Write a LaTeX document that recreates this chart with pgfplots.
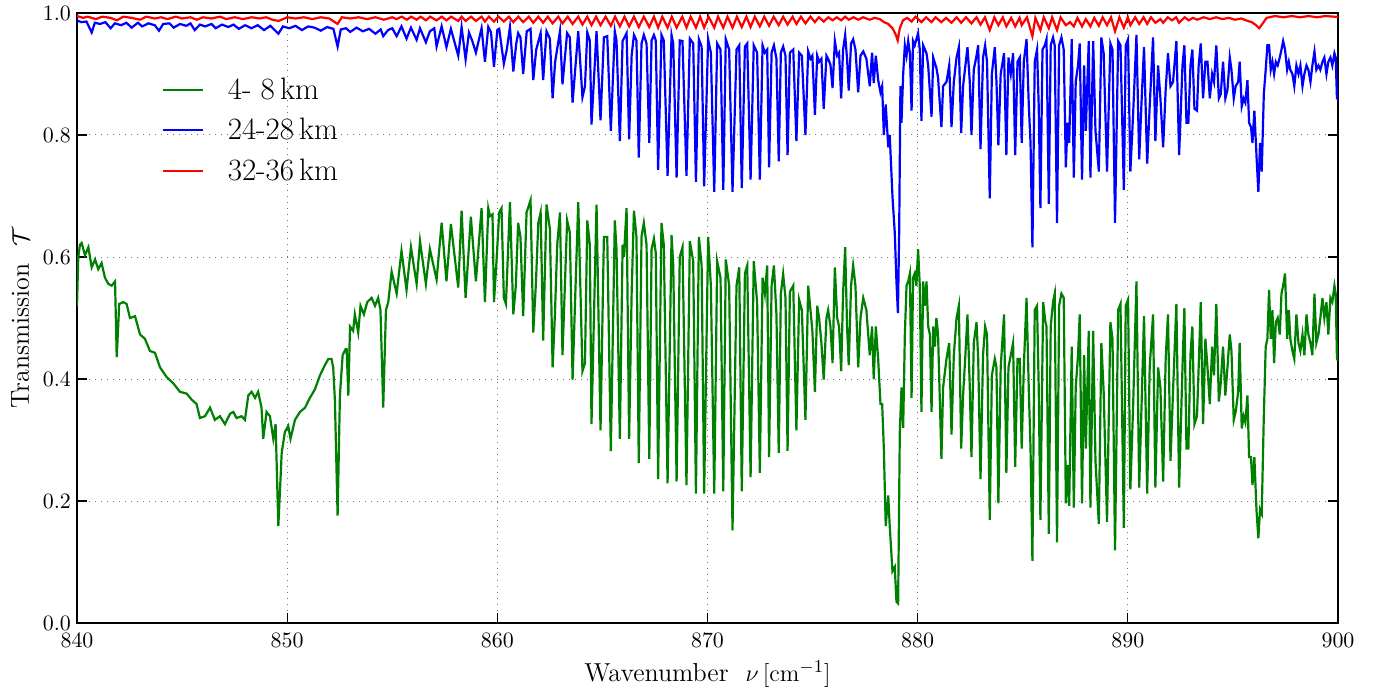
\documentclass[border=0pt]{standalone}
\usepackage{pgfplots}
\pgfplotsset{compat=1.18}
\definecolor{mgreen}{rgb}{0,0.5,0}
\begin{document}
\begin{tikzpicture}
\begin{axis}[
  scale only axis,
  width=630.5pt, height=305pt,
  xmin=840, xmax=900, ymin=0, ymax=1,
  xtick={840,850,860,870,880,890,900},
  ytick={0,0.2,0.4,0.6,0.8,1},
  ticklabel style={font=\fontsize{11}{13}\selectfont},
  xticklabel style={yshift=-1.5pt},
  yticklabel style={xshift=0.5pt},
  yticklabel style={/pgf/number format/.cd, fixed, fixed zerofill, precision=1},
  tick align=inside, major tick length=5pt,
  tick style={black, line width=0.6pt},
  axis line style={black, line width=1pt},
  xmajorgrids, ymajorgrids,
  grid style={black!55, line width=0.5pt, dash pattern=on 0.7pt off 2.3pt},
  xlabel={Wavenumber\ \ $\nu\,[\mathrm{cm}^{-1}]$},
  ylabel={Transmission\ \ $\mathcal{T}$},
  label style={font=\fontsize{13}{15}\selectfont},
  legend style={draw=none, fill=none, at={(0.062,0.908)}, anchor=north west,
    font=\fontsize{15.5}{18}\selectfont, row sep=4pt,
    /tikz/every odd column/.append style={column sep=10pt}},
  legend cell align=left,
  legend image code/.code={\draw[#1,line width=1.1pt] (0pt,0pt) -- (20pt,0pt);},
]
\coordinate (SW) at (rel axis cs:0,0);
\coordinate (NE) at (rel axis cs:1,1);
% 4-8 km
\addplot[mgreen, line width=1.1pt] coordinates {
(840.0,0.52)(840.06,0.60)(840.14,0.620)(840.22,0.623)(840.38,0.603)(840.54,0.616)(840.70,0.583)(840.86,0.596)
(841.01,0.580)(841.17,0.590)(841.33,0.566)(841.49,0.556)(841.65,0.553)(841.81,0.560)(841.89,0.436)(842.01,0.523)
(842.20,0.526)(842.36,0.523)(842.52,0.500)(842.76,0.503)(843.00,0.473)(843.23,0.466)(843.47,0.446)(843.71,0.443)
(843.95,0.419)(844.27,0.403)(844.58,0.393)(844.90,0.379)(845.22,0.376)(845.46,0.366)(845.69,0.359)(845.85,0.336)
(846.09,0.339)(846.33,0.353)(846.56,0.333)(846.80,0.339)(847.04,0.326)(847.28,0.343)(847.44,0.346)(847.59,0.336)
(847.83,0.339)(847.99,0.333)(848.15,0.373)(848.31,0.379)(848.47,0.369)(848.62,0.379)(848.78,0.353)(848.86,0.302)
(849.02,0.346)(849.18,0.339)(849.34,0.302)(849.45,0.326)(849.58,0.159)(849.74,0.279)(849.89,0.313)(850.05,0.323)
(850.16,0.302)(850.37,0.333)(850.61,0.346)(850.85,0.353)(851.08,0.369)(851.32,0.383)(851.56,0.406)(851.80,0.423)
(851.96,0.433)(852.11,0.433)(852.19,0.419)(852.27,0.366)(852.40,0.176)(852.51,0.373)(852.64,0.439)(852.78,0.449)
(852.83,0.449)(852.91,0.373)(852.99,0.486)(853.14,0.479)(853.22,0.506)(853.38,0.476)(853.49,0.520)(853.65,0.506)
(853.81,0.526)(854.02,0.533)(854.18,0.520)(854.33,0.533)(854.44,0.513)(854.57,0.353)(854.70,0.513)(854.81,0.526)
(854.97,0.576)(855.21,0.540)(855.44,0.610)(855.68,0.546)(855.89,0.616)(856.16,0.556)(856.32,0.626)(856.60,0.556)
(856.79,0.613)(857.11,0.563)(857.35,0.656)(857.58,0.560)(857.79,0.654)(858.14,0.550)(858.30,0.676)(858.49,0.533)
(858.74,0.666)(858.98,0.560)(859.25,0.680)(859.41,0.526)
(859.57,0.680)(859.65,0.667)(859.77,0.670)(859.84,0.526)(859.96,0.593)(860.09,0.673)(860.20,0.680)(860.31,0.533)
(860.41,0.523)(860.60,0.690)(860.76,0.506)(860.88,0.553)(860.99,0.656)(861.10,0.633)(861.23,0.503)(861.39,0.673)
(861.58,0.693)(861.71,0.476)(861.83,0.553)(861.95,0.656)(862.06,0.673)(862.18,0.463)(862.34,0.686)(862.50,0.646)
(862.63,0.419)(862.74,0.506)(862.85,0.620)(862.98,0.673)(863.10,0.439)(863.32,0.660)(863.45,0.640)(863.58,0.399)
(863.85,0.690)(864.05,0.413)(864.17,0.426)(864.28,0.660)(864.40,0.620)(864.48,0.326)(864.72,0.686)(864.91,0.316)
(865.07,0.633)(865.23,0.633)(865.40,0.282)(865.59,0.660)(865.67,0.613)(865.83,0.302)
(865.96,0.620)(866.02,0.600)(866.15,0.680)(866.27,0.302)(866.39,0.540)(866.50,0.676)(866.62,0.633)(866.73,0.262)
(866.86,0.633)(866.97,0.656)(867.10,0.620)(867.23,0.269)(867.34,0.613)(867.45,0.630)(867.54,0.606)(867.65,0.236)
(867.81,0.656)(867.92,0.620)(868.10,0.229)(868.29,0.636)(868.37,0.586)(868.53,0.232)(868.68,0.600)(868.81,0.616)
(869.00,0.226)(869.16,0.626)(869.32,0.593)(869.45,0.212)(869.59,0.633)(869.72,0.586)(869.84,0.212)(870.03,0.633)
(870.16,0.553)(870.32,0.212)(870.46,0.593)(870.62,0.566)(870.75,0.216)(870.87,0.596)(871.03,0.553)(871.19,0.152)
(871.38,0.553)(871.51,0.583)(871.63,0.216)(871.78,0.573)(871.89,0.586)(872.05,0.239)(872.20,0.593)(872.36,0.526)
(872.49,0.246)
(872.62,0.566)(872.73,0.540)(872.84,0.586)(872.93,0.272)(873.05,0.553)(873.16,0.586)(873.28,0.506)(873.39,0.279)
(873.49,0.540)(873.60,0.572)(873.71,0.533)(873.81,0.282)(873.92,0.543)(874.08,0.553)(874.23,0.316)(874.36,0.530)
(874.49,0.513)(874.66,0.333)(874.79,0.553)(874.90,0.513)(874.99,0.479)(875.11,0.379)(875.22,0.520)(875.31,0.500)
(875.42,0.459)(875.53,0.399)(875.66,0.500)(875.74,0.513)(875.85,0.486)(875.95,0.426)(876.06,0.583)(876.17,0.500)
(876.26,0.486)(876.36,0.413)(876.45,0.540)(876.55,0.616)(876.64,0.486)(876.72,0.423)(876.83,0.553)(876.93,0.586)
(877.04,0.553)(877.17,0.419)(877.28,0.500)(877.41,0.533)(877.56,0.513)(877.72,0.439)(877.83,0.486)(877.91,0.400)
(878.01,0.486)(878.12,0.433)(878.23,0.359)(878.31,0.359)(878.39,0.286)(878.48,0.159)(878.60,0.209)(878.67,0.159)
(878.80,0.085)(878.91,0.092)(878.99,0.035)(879.07,0.032)
(879.15,0.313)(879.23,0.386)(879.31,0.320)(879.39,0.473)(879.47,0.553)(879.55,0.560)(879.63,0.573)(879.71,0.369)
(879.78,0.566)(879.86,0.573)(879.94,0.553)(880.02,0.613)(880.10,0.553)(880.18,0.346)(880.26,0.560)(880.34,0.520)
(880.42,0.560)(880.50,0.486)(880.58,0.473)(880.66,0.346)(880.74,0.486)(880.82,0.453)(880.89,0.500)(880.97,0.473)
(881.13,0.269)(881.21,0.386)(881.37,0.433)(881.50,0.459)(881.61,0.309)(881.72,0.439)(881.85,0.500)(881.96,0.520)
(882.07,0.286)(882.16,0.373)(882.27,0.439)(882.37,0.506)(882.48,0.386)(882.56,0.272)(882.67,0.459)(882.80,0.493)
(882.88,0.433)(882.99,0.236)(883.11,0.439)(883.21,0.486)(883.30,0.473)(883.43,0.169)(883.53,0.406)(883.67,0.433)
(883.75,0.419)(883.84,0.196)(883.95,0.419)(884.11,0.506)(884.22,0.246)(884.32,0.419)(884.43,0.439)(884.54,0.459)
(884.64,0.256)(884.75,0.433)(884.86,0.433)(884.95,0.286)(885.05,0.419)(885.18,0.533)(885.29,0.379)(885.37,0.286)
(885.46,0.102)(885.57,0.513)(885.68,0.520)(885.76,0.386)(885.84,0.169)(885.97,0.526)(886.08,0.493)(886.13,0.486)
(886.24,0.146)(886.33,0.486)(886.44,0.526)(886.52,0.540)(886.63,0.132)(886.73,0.520)(886.84,0.540)(886.95,0.533)
(887.05,0.196)(887.13,0.259)(887.21,0.192)(887.33,0.453)(887.43,0.189)(887.52,0.386)(887.63,0.439)(887.71,0.506)
(887.82,0.196)(887.92,0.439)(888.00,0.286)(888.14,0.479)(888.22,0.189)(888.35,0.479)(888.46,0.266)(888.62,0.162)
(888.74,0.459)(888.85,0.379)(889.01,0.166)(889.17,0.493)(889.27,0.466)(889.39,0.119)(889.54,0.513)(889.65,0.523)
(889.81,0.156)(889.90,0.520)(890.01,0.530)(890.12,0.219)(890.25,0.353)(890.41,0.560)(890.54,0.222)(890.65,0.353)
(890.77,0.503)(890.92,0.212)(891.04,0.419)(891.20,0.506)(891.31,0.222)(891.44,0.419)(891.55,0.386)(891.68,0.232)
(891.80,0.433)(891.91,0.506)(892.03,0.266)(892.15,0.379)(892.31,0.523)(892.44,0.222)
(892.60,0.419)(892.69,0.516)(892.79,0.286)(892.88,0.286)(892.98,0.439)(893.07,0.486)(893.17,0.326)(893.29,0.339)
(893.37,0.419)(893.47,0.526)(893.58,0.326)(893.69,0.466)(893.79,0.419)(893.90,0.359)(894.01,0.453)(894.10,0.406)
(894.21,0.523)(894.33,0.363)(894.42,0.393)(894.53,0.453)(894.64,0.373)(894.74,0.419)(894.85,0.473)(894.93,0.446)
(895.04,0.333)(895.13,0.346)(895.25,0.379)(895.32,0.459)(895.42,0.319)(895.51,0.339)(895.59,0.329)(895.69,0.373)
(895.77,0.272)(895.86,0.272)(895.93,0.226)(896.02,0.272)(896.12,0.186)(896.21,0.139)(896.29,0.186)(896.37,0.179)
(896.47,0.339)(896.56,0.453)(896.64,0.466)(896.72,0.546)(896.80,0.466)(896.88,0.513)(896.96,0.426)(897.04,0.493)
(897.13,0.500)(897.23,0.473)(897.31,0.540)(897.39,0.553)(897.48,0.573)(897.58,0.466)(897.66,0.513)(897.73,0.466)
(897.83,0.446)(897.92,0.433)(898.02,0.506)(898.12,0.459)(898.21,0.446)(898.31,0.473)(898.40,0.439)(898.50,0.506)
(898.59,0.473)(898.69,0.459)(898.78,0.439)(898.88,0.540)(898.97,0.459)(899.07,0.473)(899.16,0.500)(899.26,0.533)
(899.35,0.500)(899.45,0.526)(899.54,0.473)(899.64,0.533)(899.73,0.526)(899.83,0.553)(899.89,0.540)(899.95,0.433)
(900.00,0.430)
};
\addlegendentry{4- 8\,km}
% 24-28 km
\addplot[blue, line width=1.1pt] coordinates {
(840.0,0.988)(840.2,0.985)(840.45,0.986)(840.7,0.968)(840.85,0.984)(841.1,0.982)(841.35,0.985)(841.6,0.975)
(841.8,0.983)(842.1,0.980)(842.35,0.984)(842.6,0.976)(842.9,0.984)(843.1,0.978)(843.4,0.983)(843.7,0.980)
(843.9,0.971)(844.1,0.982)(844.4,0.983)(844.6,0.976)(844.9,0.982)(845.2,0.979)(845.4,0.983)(845.6,0.972)
(845.85,0.981)(846.1,0.978)(846.4,0.982)(846.6,0.975)(846.9,0.981)(847.2,0.977)(847.45,0.981)(847.7,0.974)
(848.0,0.980)(848.3,0.975)(848.6,0.980)(848.9,0.972)(849.2,0.979)(849.58,0.966)(849.8,0.978)(850.1,0.975)
(850.4,0.979)(850.7,0.972)(851.0,0.978)(851.3,0.976)(851.6,0.971)(851.9,0.977)(852.2,0.974)(852.40,0.945)
(852.55,0.973)(852.8,0.975)(853.0,0.969)(853.3,0.976)(853.6,0.970)(853.9,0.974)(854.2,0.966)(854.45,0.973)
(854.57,0.962)(854.8,0.972)(855.0,0.975)(855.21,0.962)(855.44,0.978)(855.68,0.958)(855.89,0.976)(856.16,0.956)
(856.32,0.975)(856.60,0.952)(856.79,0.970)(857.0,0.975)(857.11,0.945)(857.35,0.978)(857.58,0.944)(857.79,0.974)
(858.14,0.930)(858.30,0.977)(858.49,0.924)(858.65,0.968)(858.80,0.955)(858.98,0.935)(859.25,0.975)(859.41,0.920)
(859.57,0.977)(859.70,0.968)(859.84,0.912)(860.00,0.972)(860.09,0.974)(860.31,0.917)(860.45,0.940)(860.60,0.977)
(860.76,0.904)(860.90,0.950)(860.99,0.967)(861.10,0.960)(861.23,0.900)(861.40,0.970)(861.58,0.974)(861.71,0.890)
(861.85,0.940)(862.06,0.967)(862.18,0.890)(862.34,0.970)(862.50,0.958)(862.63,0.860)(862.75,0.920)(862.98,0.970)
(863.10,0.883)(863.32,0.967)(863.45,0.960)(863.58,0.853)(863.85,0.970)(864.05,0.862)(864.17,0.880)(864.28,0.968)
(864.40,0.955)(864.48,0.817)(864.72,0.970)(864.91,0.824)(865.07,0.960)(865.23,0.962)(865.40,0.807)(865.59,0.970)
(865.67,0.955)(865.83,0.790)
(865.96,0.954)(866.15,0.967)(866.27,0.793)(866.39,0.930)(866.50,0.964)(866.62,0.955)(866.73,0.763)(866.86,0.950)
(866.97,0.964)(867.10,0.950)(867.23,0.787)(867.34,0.955)(867.45,0.964)(867.54,0.955)(867.65,0.743)(867.81,0.964)
(867.92,0.955)(868.10,0.733)(868.29,0.964)(868.37,0.950)(868.53,0.730)(868.68,0.955)(868.81,0.954)(869.00,0.733)
(869.16,0.958)(869.32,0.950)(869.45,0.723)(869.59,0.957)(869.72,0.945)(869.84,0.716)(870.03,0.957)(870.16,0.935)
(870.32,0.707)(870.46,0.950)(870.62,0.940)(870.75,0.710)(870.87,0.957)(871.03,0.940)(871.19,0.707)(871.38,0.940)
(871.51,0.947)(871.63,0.713)(871.78,0.945)(871.89,0.950)(872.05,0.727)(872.20,0.947)(872.36,0.935)(872.49,0.727)
(872.62,0.947)(872.73,0.935)(872.84,0.940)(872.93,0.747)(873.05,0.935)(873.16,0.947)(873.28,0.925)(873.39,0.757)
(873.49,0.935)(873.60,0.945)(873.71,0.930)(873.81,0.767)(873.92,0.935)(874.08,0.940)(874.23,0.790)(874.36,0.935)
(874.49,0.930)(874.66,0.800)(874.79,0.937)(874.90,0.925)(874.99,0.930)(875.11,0.833)(875.22,0.930)(875.31,0.920)
(875.42,0.925)(875.53,0.843)(875.66,0.930)(875.74,0.925)(875.85,0.915)(875.95,0.877)(876.06,0.954)(876.17,0.930)
(876.26,0.935)(876.36,0.860)(876.45,0.940)(876.55,0.964)(876.64,0.925)(876.72,0.873)(876.83,0.950)(876.93,0.957)
(877.04,0.940)(877.17,0.870)(877.28,0.930)(877.41,0.937)(877.56,0.925)(877.72,0.880)(877.83,0.935)(877.91,0.885)
(878.01,0.930)(878.12,0.890)(878.23,0.870)(878.31,0.880)(878.39,0.800)(878.48,0.850)(878.60,0.780)(878.67,0.800)
(878.80,0.700)(878.91,0.640)(878.99,0.560)(879.06,0.508)(879.12,0.640)(879.18,0.880)(879.23,0.820)
(879.31,0.900)(879.39,0.947)(879.47,0.930)(879.55,0.954)(879.63,0.934)(879.71,0.840)(879.78,0.954)(879.86,0.947)
(880.02,0.967)(880.10,0.940)(880.18,0.823)(880.26,0.947)(880.42,0.934)(880.50,0.914)(880.66,0.830)(880.74,0.927)
(880.89,0.910)(880.97,0.894)(881.13,0.813)(881.21,0.880)(881.37,0.887)(881.50,0.914)(881.61,0.813)(881.72,0.887)
(881.85,0.927)(881.96,0.944)(882.07,0.803)(882.16,0.880)(882.37,0.944)(882.48,0.887)(882.56,0.800)(882.67,0.907)
(882.80,0.930)(882.88,0.947)(882.99,0.777)(883.11,0.927)(883.21,0.947)(883.30,0.920)(883.43,0.696)(883.53,0.900)
(883.67,0.944)(883.75,0.887)(883.84,0.783)(883.95,0.900)(884.11,0.934)(884.22,0.767)(884.32,0.927)(884.43,0.900)
(884.54,0.934)(884.64,0.767)(884.75,0.920)(884.86,0.927)(884.95,0.787)(885.05,0.920)(885.18,0.957)(885.29,0.847)
(885.37,0.787)(885.46,0.616)(885.57,0.920)(885.68,0.940)(885.76,0.847)(885.84,0.680)
(885.94,0.940)(886.05,0.947)(886.13,0.957)(886.24,0.687)(886.33,0.947)(886.44,0.960)(886.52,0.947)(886.63,0.656)
(886.73,0.947)(886.84,0.960)(886.95,0.940)(887.05,0.747)(887.13,0.820)(887.21,0.787)(887.33,0.957)(887.43,0.730)
(887.52,0.887)(887.63,0.914)(887.71,0.950)(887.82,0.727)(887.92,0.914)(888.00,0.807)(888.14,0.954)(888.22,0.730)
(888.35,0.954)(888.46,0.807)(888.62,0.740)(888.74,0.960)(888.85,0.934)(889.01,0.740)(889.17,0.950)(889.27,0.940)
(889.39,0.656)(889.54,0.954)(889.65,0.947)(889.81,0.710)(889.90,0.947)(890.01,0.957)(890.12,0.740)(890.25,0.833)
(890.41,0.964)(890.54,0.760)(890.65,0.853)(890.77,0.944)(890.92,0.753)(891.04,0.847)(891.20,0.960)(891.31,0.790)
(891.44,0.914)(891.55,0.860)(891.68,0.780)(891.80,0.874)(891.91,0.934)(892.03,0.880)(892.15,0.887)(892.31,0.954)
(892.44,0.767)
(892.60,0.914)(892.69,0.947)(892.79,0.820)(892.88,0.820)(892.98,0.914)(893.07,0.940)(893.17,0.843)(893.29,0.840)
(893.37,0.914)(893.47,0.950)(893.58,0.860)(893.69,0.920)(893.79,0.920)(893.90,0.860)(894.01,0.900)(894.10,0.887)
(894.21,0.947)(894.33,0.860)(894.42,0.867)(894.53,0.920)(894.64,0.860)(894.74,0.874)(894.85,0.927)(894.93,0.907)
(895.04,0.860)(895.13,0.880)(895.25,0.887)(895.32,0.920)(895.42,0.847)(895.51,0.860)(895.59,0.853)(895.69,0.890)
(895.77,0.820)(895.86,0.813)(895.93,0.787)(896.02,0.840)(896.12,0.767)(896.21,0.707)(896.29,0.787)(896.37,0.740)
(896.47,0.867)(896.56,0.907)(896.64,0.947)(896.72,0.947)(896.80,0.907)(896.88,0.920)(896.96,0.900)(897.04,0.920)
(897.13,0.914)(897.23,0.927)(897.31,0.940)(897.39,0.954)(897.48,0.940)(897.58,0.907)(897.66,0.920)(897.73,0.907)
(897.83,0.900)(897.92,0.880)(898.02,0.914)(898.12,0.900)(898.21,0.914)(898.31,0.880)(898.40,0.900)(898.50,0.914)
(898.59,0.907)(898.69,0.887)(898.78,0.914)(898.88,0.937)(898.97,0.907)(899.07,0.914)(899.16,0.907)(899.26,0.920)
(899.35,0.927)(899.45,0.900)(899.54,0.920)(899.64,0.927)(899.73,0.914)(899.83,0.934)(899.89,0.927)(899.95,0.860)
(900.0,0.860)
};
\addlegendentry{24-28\,km}
% 32-36 km
\addplot[red, line width=1.1pt] coordinates {
(840.0,0.995)(840.3,0.992)(840.5,0.994)(840.9,0.990)(841.2,0.994)(841.6,0.992)(841.9,0.988)(842.2,0.994)
(842.6,0.992)(843.0,0.989)(843.3,0.994)(843.7,0.991)(844.0,0.993)(844.3,0.990)(844.7,0.994)(845.0,0.991)
(845.4,0.993)(845.7,0.989)(846.0,0.993)(846.4,0.991)(846.8,0.994)(847.1,0.990)(847.5,0.993)(847.9,0.990)
(848.3,0.993)(848.7,0.991)(849.0,0.993)(849.3,0.989)(849.6,0.987)(850.0,0.993)(850.4,0.991)(850.8,0.993)
(851.2,0.990)(851.6,0.993)(852.0,0.991)(852.4,0.982)(852.6,0.993)(853.0,0.991)(853.4,0.993)(853.8,0.990)
(854.2,0.993)(854.6,0.989)(855.0,0.993)(855.2,0.990)(855.45,0.994)(855.7,0.989)(855.9,0.994)(856.16,0.989)
(856.35,0.994)(856.6,0.988)(856.8,0.994)(857.11,0.988)(857.35,0.994)(857.58,0.988)(857.8,0.994)(858.14,0.987)
(858.3,0.994)(858.49,0.987)(858.75,0.994)(858.98,0.987)(859.25,0.994)(859.41,0.986)(859.6,0.994)(859.84,0.986)
(860.05,0.994)(860.31,0.986)(860.55,0.994)(860.76,0.985)(861.0,0.994)(861.23,0.985)(861.5,0.994)(861.71,0.984)
(861.95,0.994)(862.18,0.984)(862.4,0.994)(862.63,0.983)(862.9,0.994)(863.10,0.983)(863.35,0.994)(863.58,0.982)
(863.85,0.994)(864.05,0.981)(864.28,0.994)(864.48,0.980)(864.7,0.994)(864.91,0.980)(865.15,0.994)(865.40,0.979)
(865.6,0.994)(865.83,0.978)(866.05,0.994)(866.27,0.978)(866.5,0.994)(866.73,0.977)(866.97,0.994)(867.23,0.977)
(867.45,0.994)(867.65,0.976)(867.85,0.994)(868.10,0.976)(868.3,0.994)(868.53,0.976)(868.8,0.994)(869.00,0.976)
(869.2,0.994)(869.45,0.976)(869.65,0.994)(869.84,0.976)(870.05,0.994)(870.32,0.976)(870.5,0.994)(870.75,0.976)
(870.95,0.994)(871.19,0.976)(871.4,0.994)(871.63,0.977)(871.85,0.994)(872.05,0.977)(872.25,0.994)(872.49,0.978)
(872.7,0.994)(872.93,0.979)(873.15,0.994)(873.39,0.980)(873.6,0.994)(873.81,0.981)(874.05,0.994)(874.23,0.982)
(874.45,0.994)(874.66,0.983)(874.9,0.994)(875.11,0.985)(875.3,0.993)(875.53,0.986)(875.75,0.993)(875.95,0.988)
(876.15,0.993)(876.36,0.988)(876.55,0.994)(876.72,0.989)(876.95,0.993)(877.17,0.989)(877.4,0.993)(877.72,0.989)
(877.95,0.992)(878.2,0.990)(878.4,0.985)(878.6,0.982)(878.8,0.975)(878.95,0.965)(879.05,0.955)(879.15,0.975)
(879.3,0.988)(879.5,0.992)(879.71,0.986)(879.9,0.994)(880.18,0.985)(880.4,0.993)(880.66,0.985)(880.85,0.993)
(881.13,0.985)(881.35,0.992)(881.61,0.984)(881.85,0.993)(882.07,0.984)(882.3,0.993)(882.56,0.983)(882.8,0.993)
(882.99,0.981)(883.2,0.993)(883.43,0.972)(883.65,0.993)(883.84,0.980)(884.05,0.993)(884.22,0.978)(884.45,0.992)
(884.64,0.978)(884.85,0.992)(884.95,0.980)(885.2,0.993)(885.46,0.962)(885.6,0.992)(885.84,0.972)(886.0,0.993)
(886.24,0.975)(886.4,0.993)(886.63,0.972)(886.8,0.993)(887.05,0.980)(887.25,0.985)(887.43,0.978)(887.6,0.992)
(887.82,0.978)(888.0,0.990)(888.22,0.978)(888.4,0.992)(888.62,0.979)(888.8,0.993)(889.01,0.980)(889.2,0.993)
(889.39,0.970)(889.6,0.993)(889.81,0.976)(890.0,0.993)(890.12,0.980)(890.35,0.993)(890.54,0.982)(890.75,0.993)
(890.92,0.982)(891.1,0.993)(891.31,0.984)(891.55,0.990)(891.68,0.984)(891.9,0.993)(892.1,0.988)(892.3,0.993)
(892.44,0.984)(892.7,0.993)(892.9,0.988)(893.1,0.992)(893.3,0.989)(893.6,0.993)(893.9,0.990)(894.2,0.993)
(894.5,0.990)(894.8,0.992)(895.1,0.989)(895.4,0.991)(895.7,0.987)(895.9,0.985)(896.1,0.980)(896.25,0.975)
(896.4,0.982)(896.6,0.992)(897.0,0.995)(897.4,0.993)(897.8,0.995)(898.2,0.993)(898.6,0.995)(899.0,0.993)
(899.4,0.995)(899.8,0.994)(900.0,0.994)
};
\addlegendentry{32-36\,km}
\end{axis}
\pgfresetboundingbox
\path ([shift={(-38.5pt,-31.5pt)}]SW) rectangle ([shift={(18.5pt,6.5pt)}]NE);
\end{tikzpicture}
\end{document}
